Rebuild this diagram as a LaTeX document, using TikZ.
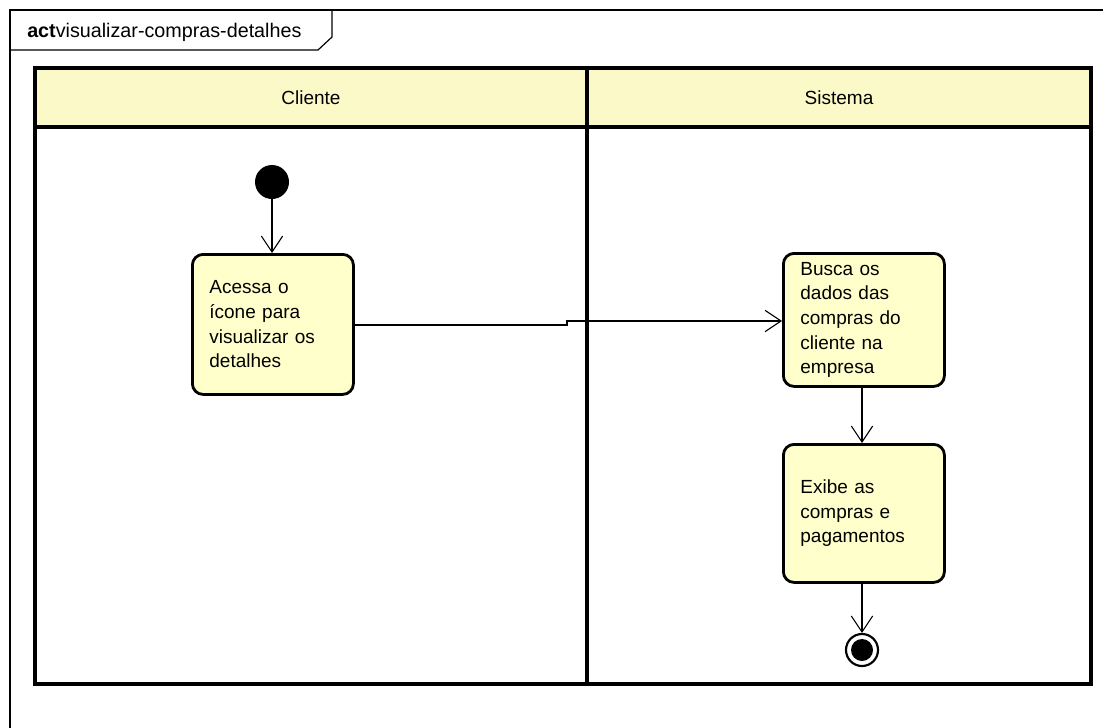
\documentclass[tikz,border=0pt]{standalone}
\usepackage{fontspec}
\setmainfont{Liberation Sans}
\usetikzlibrary{arrows.meta}
\definecolor{umlfill}{HTML}{FFFFCC}
\definecolor{lanefill}{HTML}{FCF9C8}
\tikzset{
  px/.style={x=0.75pt,y=-0.75pt},
  txt/.style={font=\fontsize{14.25}{18.5}\selectfont},
  action/.style={draw=black,line width=2.1pt,fill=umlfill,rounded corners=8pt,
    inner xsep=12.75pt,inner ysep=0pt,align=left,anchor=north west,
    txt,text width=95.25pt},
  flow/.style={draw=black,line width=0.8pt,-{Straight Barb[length=12pt,width=16pt,line width=0.8pt]}},
  lane/.style={draw=black,line width=2.6pt},
}
\begin{document}
\begin{tikzpicture}[px]
\useasboundingbox (0,0) rectangle (1103,728);
% frame
\draw[line width=0.9pt] (10,728) -- (10,10) -- (1103,10);
\draw[line width=0.9pt] (10,50) -- (318,50) -- (332,37) -- (332,10);
\node[font=\fontsize{14.8}{18.5}\selectfont,anchor=base west,inner sep=0pt] (title) at (27,37) {\textbf{act}visualizar-compras-detalhes};
% swimlanes
\fill[lanefill] (35,68) rectangle (1091,127);
\draw[lane] (35,68) rectangle (1091,684);
\draw[lane] (35,127) -- (1091,127);
\draw[lane] (587,68) -- (587,684);
\node[txt] (h1) at (311,98) {Cliente};
\node[txt] (h2) at (839,98) {Sistema};
% nodes
\node[circle,fill=black,minimum size=25.5pt,inner sep=0pt] (start) at (272,182) {};
\node[action,minimum height=105pt] (a1) at (191,253) {Acessa o\\ícone para\\visualizar os\\detalhes};
\node[action,minimum height=99.75pt] (a2) at (782,252) {Busca os\\dados das\\compras do\\cliente na\\empresa};
\node[action,minimum height=103.5pt] (a3) at (782,443) {Exibe as\\compras e\\pagamentos};
\node[circle,draw=black,line width=1.6pt,minimum size=24pt,inner sep=0pt] (end) at (862,650) {};
\node[circle,fill=black,minimum size=16.5pt,inner sep=0pt] (endin) at (end.center) {};
% connectors
\coordinate (m1) at (567,325);
\coordinate (m2) at (567,321);
\draw[flow] (start) -- (start |- a1.north);
\draw[flow] (a1.east |- m1) -- (m1) -- (m2) -- (a2.west |- m2);
\draw[flow] (a2.south -| 862,0) -- (a3.north -| 862,0);
\draw[flow] (a3.south -| 862,0) -- (end.north);
\end{tikzpicture}
\end{document}
